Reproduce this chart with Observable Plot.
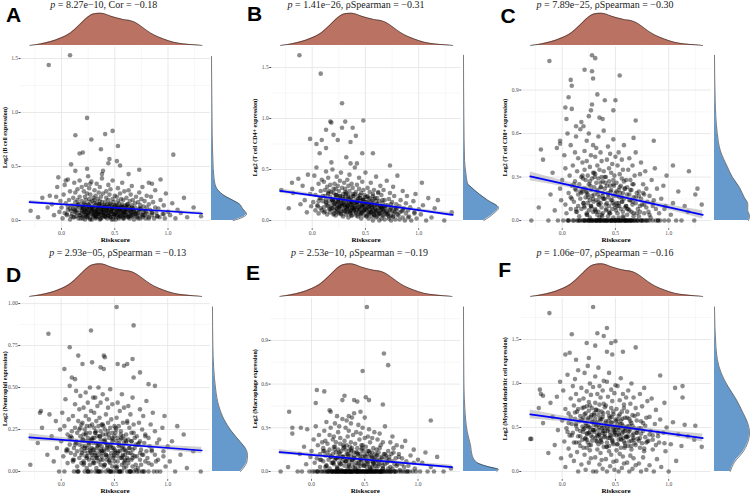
<!DOCTYPE html>
<html><head><meta charset="utf-8">
<script src="https://cdn.jsdelivr.net/npm/d3@7"></script>
<script src="https://cdn.jsdelivr.net/npm/@observablehq/plot@0.6"></script>
<style>
body{margin:0;background:#fff;}
#fig{position:relative;width:750px;height:494px;overflow:hidden;background:#fff;}
</style></head><body><div id="fig"></div>
<script>
// ---------- DATA ----------
const riskscore = [-0.29,-0.22, -0.18,-0.13,-0.11, -0.09,-0.07,-0.05,-0.04,-0.02,-0.01,
0.00,0.01,0.02,0.03,0.03,0.04,0.05,0.06,0.06,0.07,0.08,0.08,0.09,0.10,
0.10,0.11,0.11,0.12,0.12,0.13,0.13,0.13,0.14,0.14,0.15,0.15,0.15,0.16,0.16,0.17,0.17,0.17,0.18,0.18,0.19,0.19,0.19,0.20,
0.20,0.20,0.21,0.21,0.21,0.22,0.22,0.22,0.23,0.23,0.23,0.23,0.24,0.24,0.24,0.25,0.25,0.25,0.25,0.26,0.26,0.26,0.27,0.27,0.27,0.27,0.28,0.28,0.28,0.29,0.29,0.29,0.30,0.30,
0.30,0.31,0.31,0.31,0.31,0.32,0.32,0.32,0.32,0.33,0.33,0.33,0.33,0.34,0.34,0.34,0.34,0.35,0.35,0.35,0.35,0.36,0.36,0.36,0.36,0.37,0.37,0.37,0.37,0.38,0.38,0.38,0.38,0.39,0.39,0.39,0.40,0.40,
0.40,0.41,0.41,0.41,0.42,0.42,0.42,0.42,0.43,0.43,0.43,0.44,0.44,0.44,0.44,0.45,0.45,0.45,0.46,0.46,0.46,0.46,0.47,0.47,0.47,0.48,0.48,0.48,0.48,0.49,0.49,0.49,0.50,0.50,0.50,
0.51,0.51,0.51,0.52,0.52,0.52,0.53,0.53,0.53,0.53,0.54,0.54,0.54,0.55,0.55,0.55,0.56,0.56,0.56,0.57,0.57,0.57,0.57,0.58,0.58,0.58,0.59,0.59,0.59,0.60,0.60,
0.60,0.61,0.61,0.61,0.62,0.62,0.62,0.63,0.63,0.63,0.64,0.64,0.64,0.65,0.65,0.65,0.66,0.66,0.66,0.67,0.67,0.67,0.68,0.68,0.69,0.69,0.70,0.70,
0.71,0.71,0.72,0.72,0.73,0.73,0.74,0.74,0.74,0.75,0.75,0.76,0.76,0.77,0.77,0.78,0.78,0.79,0.79,0.80,0.80,
0.81,0.82,0.82,0.83,0.84,0.85,0.85,0.86,0.87,0.88,0.88,0.89,0.90,
0.91,0.92,0.93,0.95,0.96,0.97,0.98,1.00, 1.02,1.04,1.07,1.09, 1.12,1.15,1.18, 1.24,1.31];

const yA = [0.09,0.03, 0.21,0.12,0.23, 0.15,0.05,0.22,0.31,0.08,0.18,
0.12,0.02,0.24,0.07,0.33,0.16,0.05,0.38,0.1,0.19,0.01,0.27,0.09,0.14,
0.06,0.21,0.11,0.35,0.03,0.17,0.08,0.26,0.13,0.04,0.29,0.1,0.19,0.02,0.15,0.37,0.07,0.22,0.12,0.05,0.31,0.09,0.18,0.14,
0.04,0.12,0.27,0.08,0.16,0.01,0.22,0.1,0.33,0.06,0.14,0.19,0.03,0.25,0.11,0.07,0.41,0.15,0.05,0.2,0.09,0.3,0.13,0.02,0.17,0.24,0.08,0.12,0.36,0.06,0.18,0.1,0.04,0.21,
0.11,0.05,0.19,0.08,0.28,0.02,0.14,0.09,0.23,0.06,0.16,0.34,0.03,0.12,0.07,0.2,0.1,0.26,0.04,0.15,0.08,0.31,0.13,0.01,0.18,0.06,0.11,0.22,0.09,0.39,0.05,0.14,0.17,0.03,0.25,0.1,0.07,0.12,
0.08,0.17,0.04,0.13,0.27,0.06,0.1,0.21,0.02,0.15,0.09,0.33,0.05,0.12,0.19,0.07,0.24,0.11,0.03,0.16,0.08,0.29,0.14,0.01,0.1,0.2,0.06,0.37,0.12,0.04,0.17,0.09,0.23,0.05,0.13,
0.07,0.14,0.03,0.22,0.1,0.05,0.18,0.12,0.3,0.06,0.09,0.16,0.02,0.25,0.11,0.04,0.13,0.2,0.08,0.35,0.06,0.15,0.1,0.03,0.19,0.12,0.07,0.27,0.05,0.09,0.14,
0.05,0.12,0.08,0.21,0.03,0.15,0.1,0.28,0.06,0.13,0.02,0.18,0.09,0.24,0.04,0.11,0.07,0.32,0.14,0.05,0.1,0.19,0.01,0.08,0.16,0.12,0.06,0.22,
0.09,0.04,0.17,0.07,0.26,0.11,0.02,0.14,0.06,0.2,0.1,0.03,0.31,0.08,0.13,0.05,0.18,0.09,0.02,0.23,0.12,
0.06,0.15,0.03,0.1,0.22,0.05,0.08,0.17,0.02,0.12,0.28,0.07,0.04,
0.11,0.03,0.19,0.06,0.14,0.02,0.25,0.08, 0.05,0.16,0.02,0.1, 0.07,0.21,0.03, 0.12,0.04];

const yB = [0.3,0.12, 0.27,0.41,0.16, 0.34,0.2,0.08,0.45,0.26,0.14,
0.31,0.18,0.44,0.1,0.25,0.52,0.15,0.36,0.07,0.22,0.29,0.12,0.4,0.19,
0.24,0.13,0.38,0.09,0.3,0.17,0.48,0.21,0.06,0.33,0.14,0.26,0.42,0.11,0.19,0.35,0.08,0.23,0.28,0.15,0.5,0.12,0.2,0.31,
0.18,0.27,0.1,0.36,0.14,0.22,0.05,0.31,0.16,0.43,0.12,0.25,0.08,0.19,0.34,0.13,0.29,0.21,0.07,0.39,0.15,0.24,0.11,0.47,0.17,0.09,0.32,0.2,0.14,0.26,0.04,0.23,0.16,0.37,
0.15,0.23,0.09,0.31,0.13,0.19,0.06,0.27,0.17,0.4,0.11,0.21,0.08,0.34,0.14,0.25,0.03,0.18,0.45,0.12,0.29,0.16,0.07,0.22,0.1,0.36,0.15,0.2,0.05,0.26,0.13,0.32,0.09,0.18,0.24,0.11,0.52,0.14,
0.12,0.2,0.07,0.28,0.15,0.1,0.35,0.18,0.04,0.24,0.13,0.31,0.09,0.17,0.42,0.11,0.22,0.06,0.15,0.27,0.02,0.19,0.13,0.38,0.08,0.21,0.16,0.1,0.3,0.14,0.05,0.25,0.12,0.18,0.47,
0.1,0.18,0.05,0.24,0.13,0.32,0.08,0.16,0.02,0.21,0.11,0.28,0.07,0.15,0.37,0.09,0.19,0.04,0.13,0.26,0.1,0.0,0.17,0.3,0.06,0.14,0.22,0.08,0.12,0.43,0.03,
0.09,0.16,0.04,0.22,0.12,0.28,0.06,0.14,0.0,0.19,0.1,0.34,0.07,0.13,0.02,0.25,0.11,0.17,0.05,0.09,0.3,0.14,0.01,0.2,0.08,0.12,0.39,0.06,
0.07,0.15,0.02,0.21,0.1,0.27,0.05,0.13,0.0,0.18,0.09,0.33,0.04,0.12,0.24,0.08,0.01,0.16,0.11,0.44,0.06,
0.05,0.14,0.01,0.2,0.09,0.29,0.03,0.12,0.0,0.17,0.07,0.24,0.1,
0.04,0.13,0.0,0.19,0.08,0.26,0.02,0.11, 0.06,0.15,0.0,0.22, 0.03,0.12,0.2, 0.0,0.08];

const yC = [0.0,0.09, 0.42,0.0,0.18, 0.33,0.07,0.5,0.0,0.22,0.14,
0.28,0.0,0.45,0.11,0.36,0.05,0.6,0.19,0.0,0.31,0.08,0.52,0.24,0.0,
0.38,0.13,0.0,0.27,0.47,0.06,0.21,0.58,0.0,0.34,0.1,0.18,0.43,0.03,0.25,0.0,0.63,0.15,0.3,0.08,0.0,0.4,0.2,0.12,
0.22,0.0,0.35,0.09,0.48,0.16,0.0,0.28,0.55,0.04,0.19,0.41,0.0,0.12,0.31,0.07,0.25,0.0,0.6,0.14,0.37,0.02,0.21,0.45,0.0,0.1,0.29,0.17,0.0,0.52,0.06,0.33,0.23,0.0,
0.18,0.0,0.32,0.08,0.44,0.14,0.0,0.26,0.5,0.04,0.2,0.38,0.0,0.11,0.29,0.06,0.58,0.0,0.16,0.35,0.02,0.23,0.0,0.47,0.12,0.3,0.0,0.09,0.41,0.19,0.05,0.27,0.0,0.62,0.15,0.34,0.0,0.22,
0.15,0.0,0.3,0.07,0.42,0.12,0.0,0.24,0.51,0.03,0.18,0.36,0.0,0.1,0.27,0.05,0.0,0.46,0.14,0.33,0.0,0.21,0.08,0.39,0.0,0.17,0.56,0.02,0.25,0.11,0.0,0.31,0.19,0.0,0.44,
0.12,0.0,0.26,0.05,0.38,0.1,0.0,0.21,0.47,0.02,0.16,0.32,0.0,0.08,0.24,0.0,0.42,0.13,0.29,0.0,0.19,0.06,0.35,0.0,0.15,0.52,0.0,0.22,0.09,0.0,0.28,
0.1,0.0,0.23,0.04,0.35,0.08,0.0,0.18,0.43,0.0,0.14,0.28,0.0,0.06,0.21,0.0,0.38,0.11,0.25,0.0,0.16,0.03,0.31,0.0,0.12,0.47,0.0,0.19,
0.08,0.0,0.2,0.03,0.32,0.06,0.0,0.15,0.4,0.0,0.11,0.25,0.0,0.05,0.18,0.0,0.34,0.09,0.22,0.0,0.13,
0.06,0.0,0.17,0.02,0.28,0.1,0.0,0.14,0.36,0.0,0.08,0.22,0.0,
0.05,0.0,0.15,0.24,0.0,0.1,0.31,0.0, 0.04,0.12,0.0,0.2, 0.0,0.1,0.06, 0.0,0.11];

const yD = [0.04,0.17, 0.26,0.1,0.34, 0.21,0.06,0.3,0.14,0.0,0.25,
0.18,0.35,0.09,0.27,0.0,0.43,0.13,0.22,0.05,0.31,0.16,0.51,0.11,0.24,
0.2,0.07,0.33,0.14,0.0,0.26,0.4,0.1,0.18,0.48,0.03,0.23,0.12,0.3,0.0,0.16,0.37,0.08,0.21,0.45,0.13,0.28,0.05,0.19,
0.15,0.29,0.06,0.22,0.38,0.0,0.12,0.25,0.47,0.09,0.18,0.33,0.02,0.14,0.27,0.0,0.41,0.11,0.2,0.07,0.31,0.16,0.5,0.04,0.23,0.13,0.36,0.0,0.19,0.1,0.28,0.08,0.44,0.17,
0.13,0.26,0.05,0.2,0.35,0.0,0.11,0.23,0.44,0.08,0.17,0.3,0.02,0.14,0.39,0.0,0.21,0.1,0.27,0.06,0.5,0.16,0.0,0.32,0.12,0.24,0.04,0.19,0.41,0.09,0.15,0.0,0.28,0.07,0.22,0.46,0.13,0.18,
0.12,0.25,0.04,0.19,0.34,0.0,0.1,0.22,0.43,0.07,0.16,0.29,0.01,0.13,0.38,0.0,0.2,0.09,0.26,0.05,0.49,0.15,0.0,0.31,0.11,0.23,0.03,0.18,0.4,0.08,0.14,0.0,0.27,0.06,0.21,
0.11,0.23,0.03,0.18,0.32,0.0,0.09,0.2,0.41,0.06,0.15,0.27,0.0,0.12,0.36,0.0,0.19,0.08,0.24,0.04,0.46,0.14,0.0,0.29,0.1,0.21,0.02,0.17,0.38,0.07,0.13,
0.1,0.22,0.03,0.17,0.3,0.0,0.08,0.19,0.39,0.05,0.14,0.26,0.0,0.11,0.34,0.0,0.18,0.07,0.23,0.03,0.44,0.13,0.0,0.28,0.09,0.2,0.01,0.16,
0.09,0.21,0.02,0.16,0.29,0.0,0.07,0.18,0.37,0.04,0.13,0.25,0.0,0.1,0.33,0.0,0.17,0.06,0.22,0.42,0.12,
0.08,0.2,0.0,0.15,0.28,0.04,0.12,0.35,0.0,0.1,0.24,0.06,0.17,
0.07,0.19,0.0,0.26,0.12,0.33,0.03,0.15, 0.06,0.18,0.0,0.27, 0.1,0.22,0.02, 0.12,0.0];

const yE = [0.0,0.03, 0.26,0.0,0.12, 0.0,0.17,0.05,0.29,0.0,0.1,
0.14,0.0,0.22,0.06,0.0,0.31,0.09,0.18,0.0,0.25,0.03,0.12,0.0,0.2,
0.0,0.16,0.07,0.28,0.0,0.11,0.21,0.0,0.04,0.34,0.13,0.0,0.19,0.08,0.0,0.25,0.02,0.15,0.0,0.3,0.1,0.0,0.06,0.22,
0.12,0.0,0.24,0.05,0.0,0.17,0.33,0.08,0.0,0.2,0.0,0.13,0.38,0.03,0.0,0.27,0.1,0.0,0.15,0.06,0.31,0.0,0.19,0.0,0.09,0.23,0.01,0.0,0.14,0.36,0.0,0.07,0.18,0.0,
0.1,0.0,0.21,0.04,0.0,0.15,0.3,0.07,0.0,0.18,0.0,0.12,0.35,0.02,0.0,0.24,0.09,0.0,0.14,0.05,0.28,0.0,0.17,0.0,0.08,0.2,0.0,0.11,0.33,0.0,0.06,0.16,0.0,0.25,0.03,0.0,0.13,0.4,
0.09,0.0,0.19,0.04,0.0,0.13,0.27,0.06,0.0,0.16,0.0,0.11,0.32,0.02,0.0,0.22,0.08,0.0,0.12,0.04,0.26,0.0,0.15,0.0,0.07,0.18,0.0,0.1,0.3,0.0,0.05,0.14,0.0,0.23,0.37,
0.08,0.0,0.17,0.03,0.0,0.12,0.24,0.05,0.0,0.14,0.0,0.1,0.29,0.01,0.0,0.2,0.07,0.0,0.11,0.03,0.23,0.0,0.13,0.0,0.06,0.16,0.0,0.09,0.27,0.0,0.04,
0.07,0.0,0.15,0.02,0.0,0.11,0.22,0.04,0.0,0.13,0.0,0.08,0.26,0.0,0.0,0.18,0.06,0.0,0.1,0.02,0.2,0.0,0.12,0.0,0.05,0.31,0.0,0.09,
0.06,0.0,0.14,0.02,0.0,0.1,0.2,0.03,0.0,0.12,0.0,0.07,0.24,0.0,0.16,0.05,0.0,0.09,0.0,0.18,0.04,
0.05,0.0,0.12,0.01,0.0,0.09,0.17,0.0,0.03,0.21,0.0,0.07,0.0,
0.04,0.0,0.11,0.0,0.15,0.02,0.0,0.08, 0.0,0.06,0.13,0.0, 0.03,0.0,0.1, 0.0,0.02];

const yF = [0.37,0.72, 0.55,0.21,0.78, 0.62,0.3,0.85,0.47,1.02,0.15,
0.58,0.92,0.34,0.71,0.05,0.49,1.1,0.26,0.66,0.41,0.83,0.18,0.54,0.97,
0.44,0.75,0.12,0.6,1.05,0.33,0.52,0.88,0.22,0.68,0.4,1.15,0.0,0.57,0.81,0.29,0.63,0.46,0.95,0.08,0.51,0.72,0.36,0.61,
0.48,0.83,0.19,0.65,1.12,0.38,0.55,0.02,0.74,0.43,0.91,0.27,0.59,1.2,0.33,0.69,0.5,0.1,0.79,0.45,1.0,0.24,0.62,0.41,0.87,0.15,0.56,0.72,0.35,0.96,0.47,0.0,0.66,0.53,
0.45,0.78,0.16,0.6,1.08,0.35,0.52,0.0,0.7,0.4,0.88,0.25,0.56,1.18,0.31,0.64,0.47,0.08,0.76,0.42,0.97,0.21,0.58,0.38,0.84,0.13,0.53,0.68,0.33,0.92,0.44,0.03,0.62,0.5,1.03,0.28,0.73,0.46,
0.43,0.75,0.14,0.57,1.02,0.33,0.5,0.0,0.67,0.38,0.85,0.23,0.53,1.12,0.29,0.61,0.45,0.06,0.72,0.4,0.93,0.19,0.55,0.36,0.8,0.11,0.49,0.65,0.31,0.89,0.42,0.02,0.59,0.47,0.98,
0.41,0.71,0.12,0.54,0.97,0.31,0.47,0.0,0.63,0.36,0.81,0.2,0.5,1.06,0.27,0.58,0.43,0.04,0.68,0.38,0.88,0.17,0.52,0.34,0.76,0.09,0.46,0.61,0.29,0.84,0.4,
0.39,0.68,0.1,0.51,0.92,0.29,0.45,0.0,0.6,0.34,0.77,0.18,0.48,1.0,0.25,0.55,0.41,0.03,0.64,0.36,0.84,0.15,0.49,0.32,0.72,0.07,0.44,0.58,
0.37,0.65,0.09,0.49,0.88,0.27,0.43,0.0,0.57,0.32,0.74,0.16,0.46,0.95,0.23,0.52,0.39,0.02,0.61,0.34,0.8,
0.35,0.62,0.07,0.46,0.83,0.25,0.41,0.0,0.54,0.3,0.7,0.14,0.44,
0.33,0.59,0.05,0.44,0.78,0.23,0.5,0.0, 0.31,0.56,0.12,0.42, 0.29,0.53,0.4, 0.36,0.28];

// second group: samples packed in the dark core of each cloud
const riskscore2 = [0.05,0.08,0.11,0.13,0.15,0.17,0.19,0.2,0.21,0.22,
0.23,0.24,0.25,0.26,0.27,0.28,0.29,0.3,0.31,0.32,
0.33,0.34,0.35,0.36,0.37,0.38,0.39,0.4,0.41,0.42,
0.43,0.44,0.45,0.46,0.47,0.48,0.49,0.5,0.51,0.52,
0.53,0.54,0.55,0.56,0.57,0.58,0.59,0.6,0.61,0.62,
0.63,0.64,0.65,0.66,0.67,0.68,0.7,0.72,0.74,0.77,
0.06,0.09,0.12,0.14,0.16,0.18,0.195,0.205,0.215,0.225,
0.235,0.245,0.255,0.265,0.275,0.285,0.295,0.305,0.315,0.325,
0.335,0.345,0.355,0.365,0.375,0.385,0.395,0.405,0.415,0.425,
0.435,0.445,0.455,0.465,0.475,0.485,0.495,0.505,0.515,0.525,
0.535,0.545,0.555,0.565,0.575,0.585,0.595,0.61,0.63,0.65,
0.67,0.69,0.71,0.73,0.76,0.79,0.82,0.85,0.9,0.96];
const yA2 = [0.06,0.11,0.03,0.09,0.14,0.05,0.12,0.02,0.08,0.15,0.04,0.1,0.07,0.13,0.01,0.09,0.12,0.05,0.16,0.03,
0.08,0.11,0.06,0.14,0.02,0.1,0.07,0.13,0.04,0.09,0.12,0.05,0.15,0.03,0.08,0.11,0.06,0.14,0.01,0.1,
0.07,0.12,0.04,0.09,0.13,0.02,0.08,0.11,0.05,0.15,0.03,0.1,0.06,0.12,0.04,0.09,0.07,0.02,0.11,0.05,
0.13,0.04,0.1,0.07,0.15,0.02,0.09,0.12,0.05,0.08,0.11,0.03,0.14,0.06,0.1,0.01,0.13,0.07,0.09,0.04,
0.12,0.06,0.15,0.02,0.08,0.11,0.05,0.14,0.03,0.1,0.07,0.13,0.04,0.09,0.12,0.01,0.06,0.11,0.08,0.14,
0.03,0.1,0.05,0.12,0.07,0.02,0.09,0.13,0.04,0.08,0.11,0.06,0.03,0.1,0.05,0.08,0.02,0.07,0.04,0.06];
const yB2 = [0.14,0.22,0.08,0.18,0.27,0.11,0.2,0.06,0.16,0.25,0.09,0.19,0.13,0.24,0.07,0.17,0.21,0.1,0.28,0.12,
0.15,0.23,0.09,0.19,0.05,0.16,0.12,0.26,0.08,0.18,0.21,0.11,0.25,0.07,0.14,0.2,0.1,0.23,0.04,0.17,
0.13,0.22,0.08,0.16,0.24,0.06,0.15,0.19,0.1,0.27,0.07,0.14,0.11,0.2,0.05,0.13,0.09,0.04,0.16,0.08,
0.19,0.1,0.24,0.15,0.29,0.12,0.2,0.07,0.17,0.25,0.11,0.18,0.14,0.22,0.06,0.16,0.2,0.09,0.26,0.13,
0.15,0.21,0.08,0.18,0.12,0.24,0.1,0.17,0.05,0.19,0.13,0.22,0.07,0.15,0.2,0.09,0.16,0.11,0.23,0.06,
0.14,0.18,0.08,0.12,0.21,0.05,0.1,0.16,0.07,0.13,0.09,0.15,0.06,0.11,0.04,0.12,0.08,0.1,0.03,0.07];
const yC2 = [0.0,0.16,0.25,0.08,0.0,0.2,0.31,0.12,0.0,0.22,0.05,0.18,0.0,0.27,0.1,0.0,0.15,0.33,0.07,0.0,
0.21,0.13,0.0,0.26,0.04,0.17,0.0,0.3,0.11,0.0,0.19,0.06,0.24,0.0,0.14,0.28,0.0,0.09,0.2,0.0,
0.12,0.23,0.0,0.16,0.03,0.27,0.0,0.1,0.18,0.0,0.07,0.21,0.0,0.13,0.25,0.0,0.05,0.17,0.0,0.11,
0.0,0.15,0.22,0.06,0.0,0.19,0.29,0.1,0.0,0.2,0.04,0.16,0.0,0.24,0.09,0.0,0.13,0.3,0.06,0.0,
0.18,0.11,0.0,0.23,0.03,0.15,0.0,0.26,0.08,0.0,0.16,0.05,0.2,0.0,0.12,0.24,0.0,0.07,0.17,0.0,
0.1,0.19,0.0,0.13,0.02,0.22,0.0,0.08,0.14,0.0,0.05,0.16,0.0,0.1,0.19,0.0,0.04,0.12,0.0,0.08];
const yD2 = [0.12,0.2,0.06,0.16,0.0,0.25,0.1,0.18,0.04,0.14,0.22,0.08,0.0,0.17,0.27,0.11,0.19,0.05,0.13,0.23,
0.09,0.15,0.0,0.21,0.07,0.12,0.28,0.03,0.18,0.1,0.14,0.24,0.06,0.0,0.16,0.2,0.09,0.13,0.26,0.02,
0.11,0.17,0.0,0.22,0.08,0.15,0.05,0.19,0.12,0.29,0.07,0.14,0.0,0.18,0.1,0.23,0.04,0.16,0.11,0.0,
0.13,0.21,0.07,0.17,0.0,0.26,0.11,0.19,0.05,0.15,0.23,0.09,0.0,0.18,0.12,0.14,0.2,0.06,0.1,0.24,
0.08,0.16,0.0,0.21,0.13,0.11,0.27,0.04,0.17,0.09,0.15,0.22,0.07,0.0,0.14,0.19,0.1,0.12,0.25,0.03,
0.12,0.16,0.0,0.2,0.09,0.13,0.06,0.18,0.11,0.0,0.08,0.14,0.0,0.17,0.1,0.21,0.05,0.13,0.0,0.09];
const yE2 = [0.0,0.08,0.14,0.03,0.0,0.11,0.0,0.06,0.17,0.0,0.09,0.02,0.0,0.13,0.05,0.0,0.1,0.16,0.0,0.07,
0.0,0.12,0.04,0.0,0.15,0.08,0.0,0.1,0.02,0.0,0.13,0.06,0.0,0.09,0.18,0.0,0.04,0.11,0.0,0.07,
0.0,0.14,0.03,0.0,0.1,0.06,0.0,0.12,0.08,0.0,0.05,0.16,0.0,0.09,0.02,0.0,0.11,0.07,0.0,0.13,
0.0,0.08,0.14,0.04,0.0,0.1,0.0,0.06,0.15,0.0,0.09,0.02,0.0,0.12,0.05,0.0,0.1,0.17,0.0,0.07,
0.0,0.11,0.03,0.0,0.14,0.08,0.0,0.09,0.01,0.0,0.12,0.05,0.0,0.08,0.16,0.0,0.04,0.1,0.0,0.06,
0.0,0.13,0.02,0.0,0.09,0.05,0.0,0.11,0.07,0.0,0.04,0.12,0.0,0.08,0.02,0.0,0.1,0.05,0.0,0.06];
const yF2 = [0.45,0.62,0.33,0.54,0.71,0.4,0.58,0.27,0.49,0.66,0.36,0.52,0.44,0.75,0.3,0.57,0.47,0.64,0.38,0.55,
0.42,0.69,0.5,0.34,0.6,0.46,0.77,0.39,0.53,0.28,0.48,0.63,0.41,0.56,0.35,0.68,0.45,0.51,0.24,0.59,
0.43,0.65,0.37,0.54,0.47,0.72,0.32,0.5,0.61,0.4,0.46,0.57,0.29,0.52,0.38,0.63,0.44,0.35,0.49,0.26,
0.55,0.41,0.67,0.48,0.33,0.59,0.45,0.73,0.37,0.52,0.43,0.61,0.3,0.5,0.64,0.39,0.56,0.47,0.7,0.34,
0.53,0.42,0.6,0.36,0.49,0.66,0.4,0.55,0.28,0.46,0.58,0.38,0.51,0.62,0.33,0.47,0.44,0.57,0.31,0.5,
0.41,0.54,0.36,0.6,0.45,0.27,0.49,0.39,0.52,0.35,0.43,0.3,0.47,0.38,0.55,0.33,0.42,0.36,0.4,0.32];

// visible high points
const outXA = [0.08,-0.12,0.24,0.13,0.28,0.41,0.48,0.37,0.53,0.17,0.20,1.05,0.45,0.44,0.09,0.52,0.55,0.13,0.39,0.38,0.73,0.24,0.63,-0.03,0.04,0.93,0.82,0.85,0.27];
const outYA = [1.53,1.44,0.95,0.79,0.75,0.80,0.83,0.66,0.69,0.62,0.63,0.61,0.57,0.53,0.52,0.55,0.51,0.46,0.46,0.43,0.47,0.48,0.43,0.40,0.37,0.38,0.35,0.34,0.34];
const outXB = [-0.12,0.08,0.28,0.17,0.18,0.31,0.28,0.13,0.38,0.48,0.20,0.24,0.41,0.36,-0.02,0.09,0.04,0.13,0.07,0.32,0.47,0.57,0.73,0.18,0.36,0.42,1.03,-0.19];
const outYB = [1.62,1.44,1.15,0.97,0.96,0.97,0.91,0.89,0.91,0.98,0.84,0.79,0.83,0.77,0.80,0.79,0.75,0.71,0.66,0.62,0.66,0.66,0.54,0.57,0.56,0.56,0.37,0.37];
const outXC = [-0.12,0.28,0.31,0.21,0.28,0.54,0.08,0.09,0.29,0.06,0.33,0.40,0.50,0.28,0.03,0.09,0.04,0.27,0.25,0.35,0.38,0.69,0.18,0.20,0.48,0.13,-0.02,-0.02,-0.20,0.67,0.86,1.04,1.19,1.25,1.27];
const outYC = [1.10,1.14,1.12,1.04,1.03,1.00,0.97,0.93,0.98,0.85,0.87,0.83,0.83,0.80,0.78,0.77,0.70,0.76,0.72,0.71,0.70,0.69,0.68,0.65,0.76,0.65,0.55,0.53,0.49,0.57,0.55,0.38,0.34,0.18,0.22];
const outXD = [0.52,0.68,0.28,-0.12,0.08,0.16,0.40,0.41,0.67,0.62,0.59,0.29,0.53,0.20,0.03,0.37,0.40,0.74,0.68,0.10,0.13,0.82,0.88,-0.19,-0.20];
const outYD = [0.98,0.87,0.84,0.82,0.74,0.69,0.69,0.68,0.67,0.64,0.63,0.65,0.64,0.64,0.61,0.62,0.61,0.59,0.56,0.56,0.55,0.52,0.51,0.36,0.35];
const outXE = [0.52,0.68,0.72,0.48,0.05,0.12,0.51,0.54,0.40,0.43,0.31,0.29,0.67,1.12,-0.21,0.04,0.17,0.18,0.35,0.38,0.46,-0.18,-0.10];
const outYE = [1.13,0.81,0.73,0.69,0.56,0.55,0.51,0.49,0.49,0.48,0.52,0.49,0.46,0.35,0.41,0.47,0.42,0.41,0.38,0.37,0.41,0.30,0.30];
const outXF = [-0.12,0.29,0.42,0.09,0.33,0.39,0.46,0.50,0.23,0.31,0.69,0.03,0.07,0.42,0.47,0.57,0.13,0.25,0.92,-0.21,-0.20,-0.18,1.13,1.13,1.06,1.25,-0.30];
const outYF = [1.80,1.87,1.63,1.56,1.57,1.54,1.46,1.48,1.46,1.43,1.41,1.33,1.35,1.36,1.33,1.36,1.27,1.29,1.09,0.93,0.88,0.86,0.97,0.84,0.95,0.52,0.37];

// marginal density of Riskscore (top), relative height
const topDensX = [-0.297,-0.197,-0.103,-0.009,0.084,0.163,0.225,0.272,0.319,0.366,0.413,0.459,0.522,0.584,0.647,0.694,0.741,0.803,0.866,0.959,1.053,1.147,1.241,1.319];
const topDensH = [0,0.05,0.12,0.23,0.39,0.62,0.82,0.94,0.99,1.0,0.97,0.91,0.85,0.80,0.77,0.71,0.61,0.46,0.33,0.20,0.10,0.05,0.02,0];

// marginal densities of expression (right), relative width
const rdYA = [0,0.03,0.06,0.11,0.155,0.19,0.22,0.26,0.31,0.4,0.56,0.8,1.11,1.52];
const rdWA = [0.62,0.89,1.0,0.89,0.79,0.6,0.42,0.25,0.13,0.07,0.04,0.02,0.01,0];
const rdYB = [0,0.066,0.125,0.2,0.26,0.33,0.36,0.46,0.59,1.02,1.62];
const rdWB = [0.58,0.85,1.0,0.69,0.45,0.21,0.12,0.07,0.03,0.01,0];
const rdYC = [0,0.011,0.034,0.07,0.115,0.16,0.23,0.3,0.37,0.48,0.6,0.83,1.14];
const rdWC = [0.97,0.99,1.0,0.95,0.95,0.85,0.71,0.51,0.37,0.17,0.08,0.02,0];
const rdYD = [0,0.026,0.056,0.095,0.135,0.175,0.235,0.31,0.39,0.49,0.75,0.98];
const rdWD = [0.8,0.9,0.98,1.0,0.95,0.8,0.56,0.33,0.18,0.09,0.01,0];
const rdYE = [0,0.014,0.03,0.053,0.076,0.11,0.18,0.27,0.36,0.64,1.13];
const rdWE = [0.95,1.0,0.75,0.45,0.32,0.25,0.2,0.11,0.06,0.01,0];
const rdYF = [0,0.105,0.22,0.33,0.44,0.56,0.67,0.82,0.97,1.12,1.42,1.87];
const rdWF = [0.45,0.57,0.81,0.95,1.0,0.94,0.81,0.62,0.38,0.19,0.04,0];

// regression fits: x range, fitted y at the two ends, half width of the grey band (left, middle, right)
const fitX = [-0.30, 1.32];
const fitA = [0.17, 0.065], bandA = [0.015,0.006,0.014];
const fitB = [0.29, 0.056], bandB = [0.022,0.009,0.02];
const fitC = [0.305, 0.039], bandC = [0.03,0.011,0.028];
const fitD = [0.203, 0.125], bandD = [0.022,0.008,0.02];
const fitE = [0.133, 0.03], bandE = [0.016,0.006,0.015];
const fitF = [0.648, 0.38], bandF = [0.05,0.02,0.045];

// labels
const letters = ["A","B","C","D","E","F"];
const pValues = ["8.27e\u221210","1.41e\u221226","7.89e\u221225","2.93e\u221205","2.53e\u221210","1.06e\u221207"];
const statNames = ["Cor","\u03c1Spearman","\u03c1Spearman","\u03c1Spearman","\u03c1Spearman","\u03c1Spearman"];
const statValues = ["\u22120.18","\u22120.31","\u22120.30","\u22120.13","\u22120.19","\u22120.16"];
const yLabels = ["Log2 (B cell expression)","Log2 (T cell CD4+ expression)","Log2 (T cell CD8+ expression)","Log2 (Neutrophil expression)","Log2 (Macrophage expression)","Log2 (Myeloid dendritic cell expression)"];
const xLabel = "Riskscore";
const xTicks = [0, 0.5, 1.0];
const xMinor = [-0.25, 0.25, 0.75, 1.25];
const yTicksAll = [[0,0.5,1,1.5],[0,0.5,1,1.5],[0,0.3,0.6,0.9],[0,0.25,0.5,0.75,1],[0,0.3,0.6,0.9],[0,0.5,1,1.5]];
const yMinorAll = [[0.25,0.75,1.25],[0.25,0.75,1.25],[0.15,0.45,0.75,1.05],[0.125,0.375,0.625,0.875],[0.15,0.45,0.75,1.05],[0.25,0.75,1.25,1.75]];
const yFormats = [".1f",".1f",".1f",".2f",".1f",".1f"];

// ---------- LAYOUT ----------
const RED = "#BA7263", BLUE = "#6699CC";
const SERIF = "'Liberation Serif','Times New Roman',serif";
const rows = [
  {ry:0, h:245, top:46.5, bottom:228.3, peak:12.7, base:45, riskY:239.5, titleY:7.8},
  {ry:245, h:249, top:298.2, bottom:479.2, peak:263.3, base:296, riskY:490.7, titleY:255.8}
];
const cells = [
  {cx:0,   row:0, x0:61.0, rd:211.3, titleX:103.8, lx:6,     ly:22},
  {cx:250, row:0, x0:61.7, rd:212.7, titleX:356,   lx:247,   ly:21},
  {cx:500, row:0, x0:61.7, rd:214.0, titleX:605,   lx:500.5, ly:22.5},
  {cx:0,   row:1, x0:60.7, rd:212.0, titleX:117.7, lx:6,     ly:282},
  {cx:250, row:1, x0:61.0, rd:212.7, titleX:359.5, lx:246,   ly:280},
  {cx:500, row:1, x0:61.7, rd:213.7, titleX:605,   lx:498.3, ly:277}
];
const kx = 106.5, xDom = [-0.38, 1.40], rdWidth = 35;

const ySeries = [yA,yB,yC,yD,yE,yF];
const ySeries2 = [yA2,yB2,yC2,yD2,yE2,yF2];
const outX = [outXA,outXB,outXC,outXD,outXE,outXF];
const outY = [outYA,outYB,outYC,outYD,outYE,outYF];
const rdY = [rdYA,rdYB,rdYC,rdYD,rdYE,rdYF];
const rdW = [rdWA,rdWB,rdWC,rdWD,rdWE,rdWF];
const fits = [fitA,fitB,fitC,fitD,fitE,fitF];
const bands = [bandA,bandB,bandC,bandD,bandE,bandF];

const fig = document.getElementById("fig");
function place(el, left, top){
  el.style.position = "absolute"; el.style.left = left + "px"; el.style.top = top + "px";
  fig.appendChild(el);
}
const overlay = d3.create("svg").attr("width",750).attr("height",494)
  .style("position","absolute").style("left","0px").style("top","0px");

cells.forEach((L, i) => {
  const R = rows[L.row];
  const mL = L.x0 + xDom[0]*kx;
  const innerW = (xDom[1]-xDom[0])*kx;
  const mR = 250 - mL - innerW;
  const mT = R.top - R.ry, mB = R.ry + R.h - R.bottom;
  const pts = riskscore.map((x,j) => ({x, y: ySeries[i][j]}))
    .concat(riskscore2.map((x,j) => ({x, y: ySeries2[i][j]})))
    .concat(outX[i].map((x,j) => ({x, y: outY[i][j]})));
  const ymax = d3.max(pts, d => d.y);
  const yDom = [-0.05*ymax, 1.05*ymax];
  const f = fits[i], b = bands[i];
  const fitLine = [{x: fitX[0], y: f[0]}, {x: fitX[1], y: f[1]}];
  const mid = (f[0]+f[1])/2, xm = (fitX[0]+fitX[1])/2;
  const band = [
    {x: fitX[0], lo: f[0]-b[0], hi: f[0]+b[0]},
    {x: xm, lo: mid-b[1], hi: mid+b[1]},
    {x: fitX[1], lo: f[1]-b[2], hi: f[1]+b[2]}
  ];
  const style = {background:"none", overflow:"visible", fontFamily:SERIF, fontSize:"5.5px"};

  const scatter = Plot.plot({
    width:250, height:R.h, marginLeft:mL, marginRight:mR, marginTop:mT, marginBottom:mB,
    x:{domain:xDom, label:null}, y:{domain:yDom, label:null}, style,
    marks:[
      Plot.gridX(xMinor, {stroke:"#EEEEEE", strokeOpacity:1, strokeWidth:0.5}),
      Plot.gridY(yMinorAll[i], {stroke:"#EEEEEE", strokeOpacity:1, strokeWidth:0.5}),
      Plot.gridX(xTicks, {stroke:"#E6E6E6", strokeOpacity:1, strokeWidth:0.9}),
      Plot.gridY(yTicksAll[i], {stroke:"#E6E6E6", strokeOpacity:1, strokeWidth:0.9}),
      Plot.dot(pts, {x:"x", y:"y", r:2.3, fill:"#000", fillOpacity:0.45, stroke:null}),
      Plot.areaY(band, {x:"x", y1:"lo", y2:"hi", fill:"#9a9a9a", fillOpacity:0.45, curve:"natural"}),
      Plot.line(fitLine, {x:"x", y:"y", stroke:"#0000FF", strokeWidth:1.7}),
      Plot.axisX(xTicks, {tickSize:1.5, tickPadding:0.8, tickFormat:d3.format(".1f"), color:"#4D4D4D", fontSize:5.5, label:null}),
      Plot.axisY(yTicksAll[i], {tickSize:2, tickPadding:1, tickFormat:d3.format(yFormats[i]), color:"#4D4D4D", fontSize:5.5, label:null})
    ]
  });
  place(scatter, L.cx, R.ry);

  const topH = R.base - R.ry + 2;
  const tdens = topDensX.map((x,j) => ({x, h: topDensH[j]}));
  const top = Plot.plot({
    width:250, height:topH, marginLeft:mL, marginRight:mR, marginTop:R.peak - R.ry, marginBottom:2,
    x:{domain:xDom, axis:null}, y:{domain:[0,1], axis:null}, style,
    marks:[
      Plot.areaY(tdens, {x:"x", y:"h", fill:RED, curve:"monotone-x"}),
      Plot.lineY(tdens, {x:"x", y:"h", stroke:"#262626", strokeWidth:0.6, curve:"monotone-x"})
    ]
  });
  place(top, L.cx, R.ry);

  const rdens = rdY[i].map((y,j) => ({y, w: rdW[i][j]}));
  const right = Plot.plot({
    width:rdWidth+2, height:R.h, marginLeft:0, marginRight:2, marginTop:mT, marginBottom:mB,
    x:{domain:[0,1], axis:null}, y:{domain:yDom, axis:null}, style,
    marks:[
      Plot.areaX(rdens, {y:"y", x:"w", fill:BLUE, curve:"monotone-y"}),
      Plot.lineX(rdens, {y:"y", x:"w", stroke:"#262626", strokeWidth:0.6, curve:"monotone-y"})
    ]
  });
  place(right, L.cx + L.rd, R.ry);

  // texts
  overlay.append("text").attr("x", L.lx).attr("y", L.ly)
    .attr("font-family","'Liberation Sans',Arial,sans-serif").attr("font-weight","bold")
    .attr("font-size",21).attr("fill","#000").text(letters[i]);
  const t = overlay.append("text").attr("x", L.titleX).attr("y", R.titleY)
    .attr("text-anchor","middle").attr("font-family",SERIF).attr("font-size",10).attr("fill","#1a1a1a");
  t.append("tspan").attr("font-style","italic").text("p");
  t.append("tspan").text(" = " + pValues[i] + ", " + statNames[i] + " = " + statValues[i]);
  const cyFrame = (R.top + R.bottom)/2;
  overlay.append("text").attr("transform", `translate(${L.cx+4.8},${cyFrame}) rotate(-90)`)
    .attr("text-anchor","middle").attr("dominant-baseline","central")
    .attr("font-family",SERIF).attr("font-weight","bold").attr("font-size",6).attr("fill","#000")
    .text(yLabels[i]);
  overlay.append("text").attr("x", L.cx + mL + innerW/2).attr("y", R.riskY)
    .attr("text-anchor","middle").attr("dominant-baseline","central")
    .attr("font-family",SERIF).attr("font-weight","bold").attr("font-size",7).attr("fill","#000")
    .text(xLabel);
});
fig.appendChild(overlay.node());
</script>
</body></html>
